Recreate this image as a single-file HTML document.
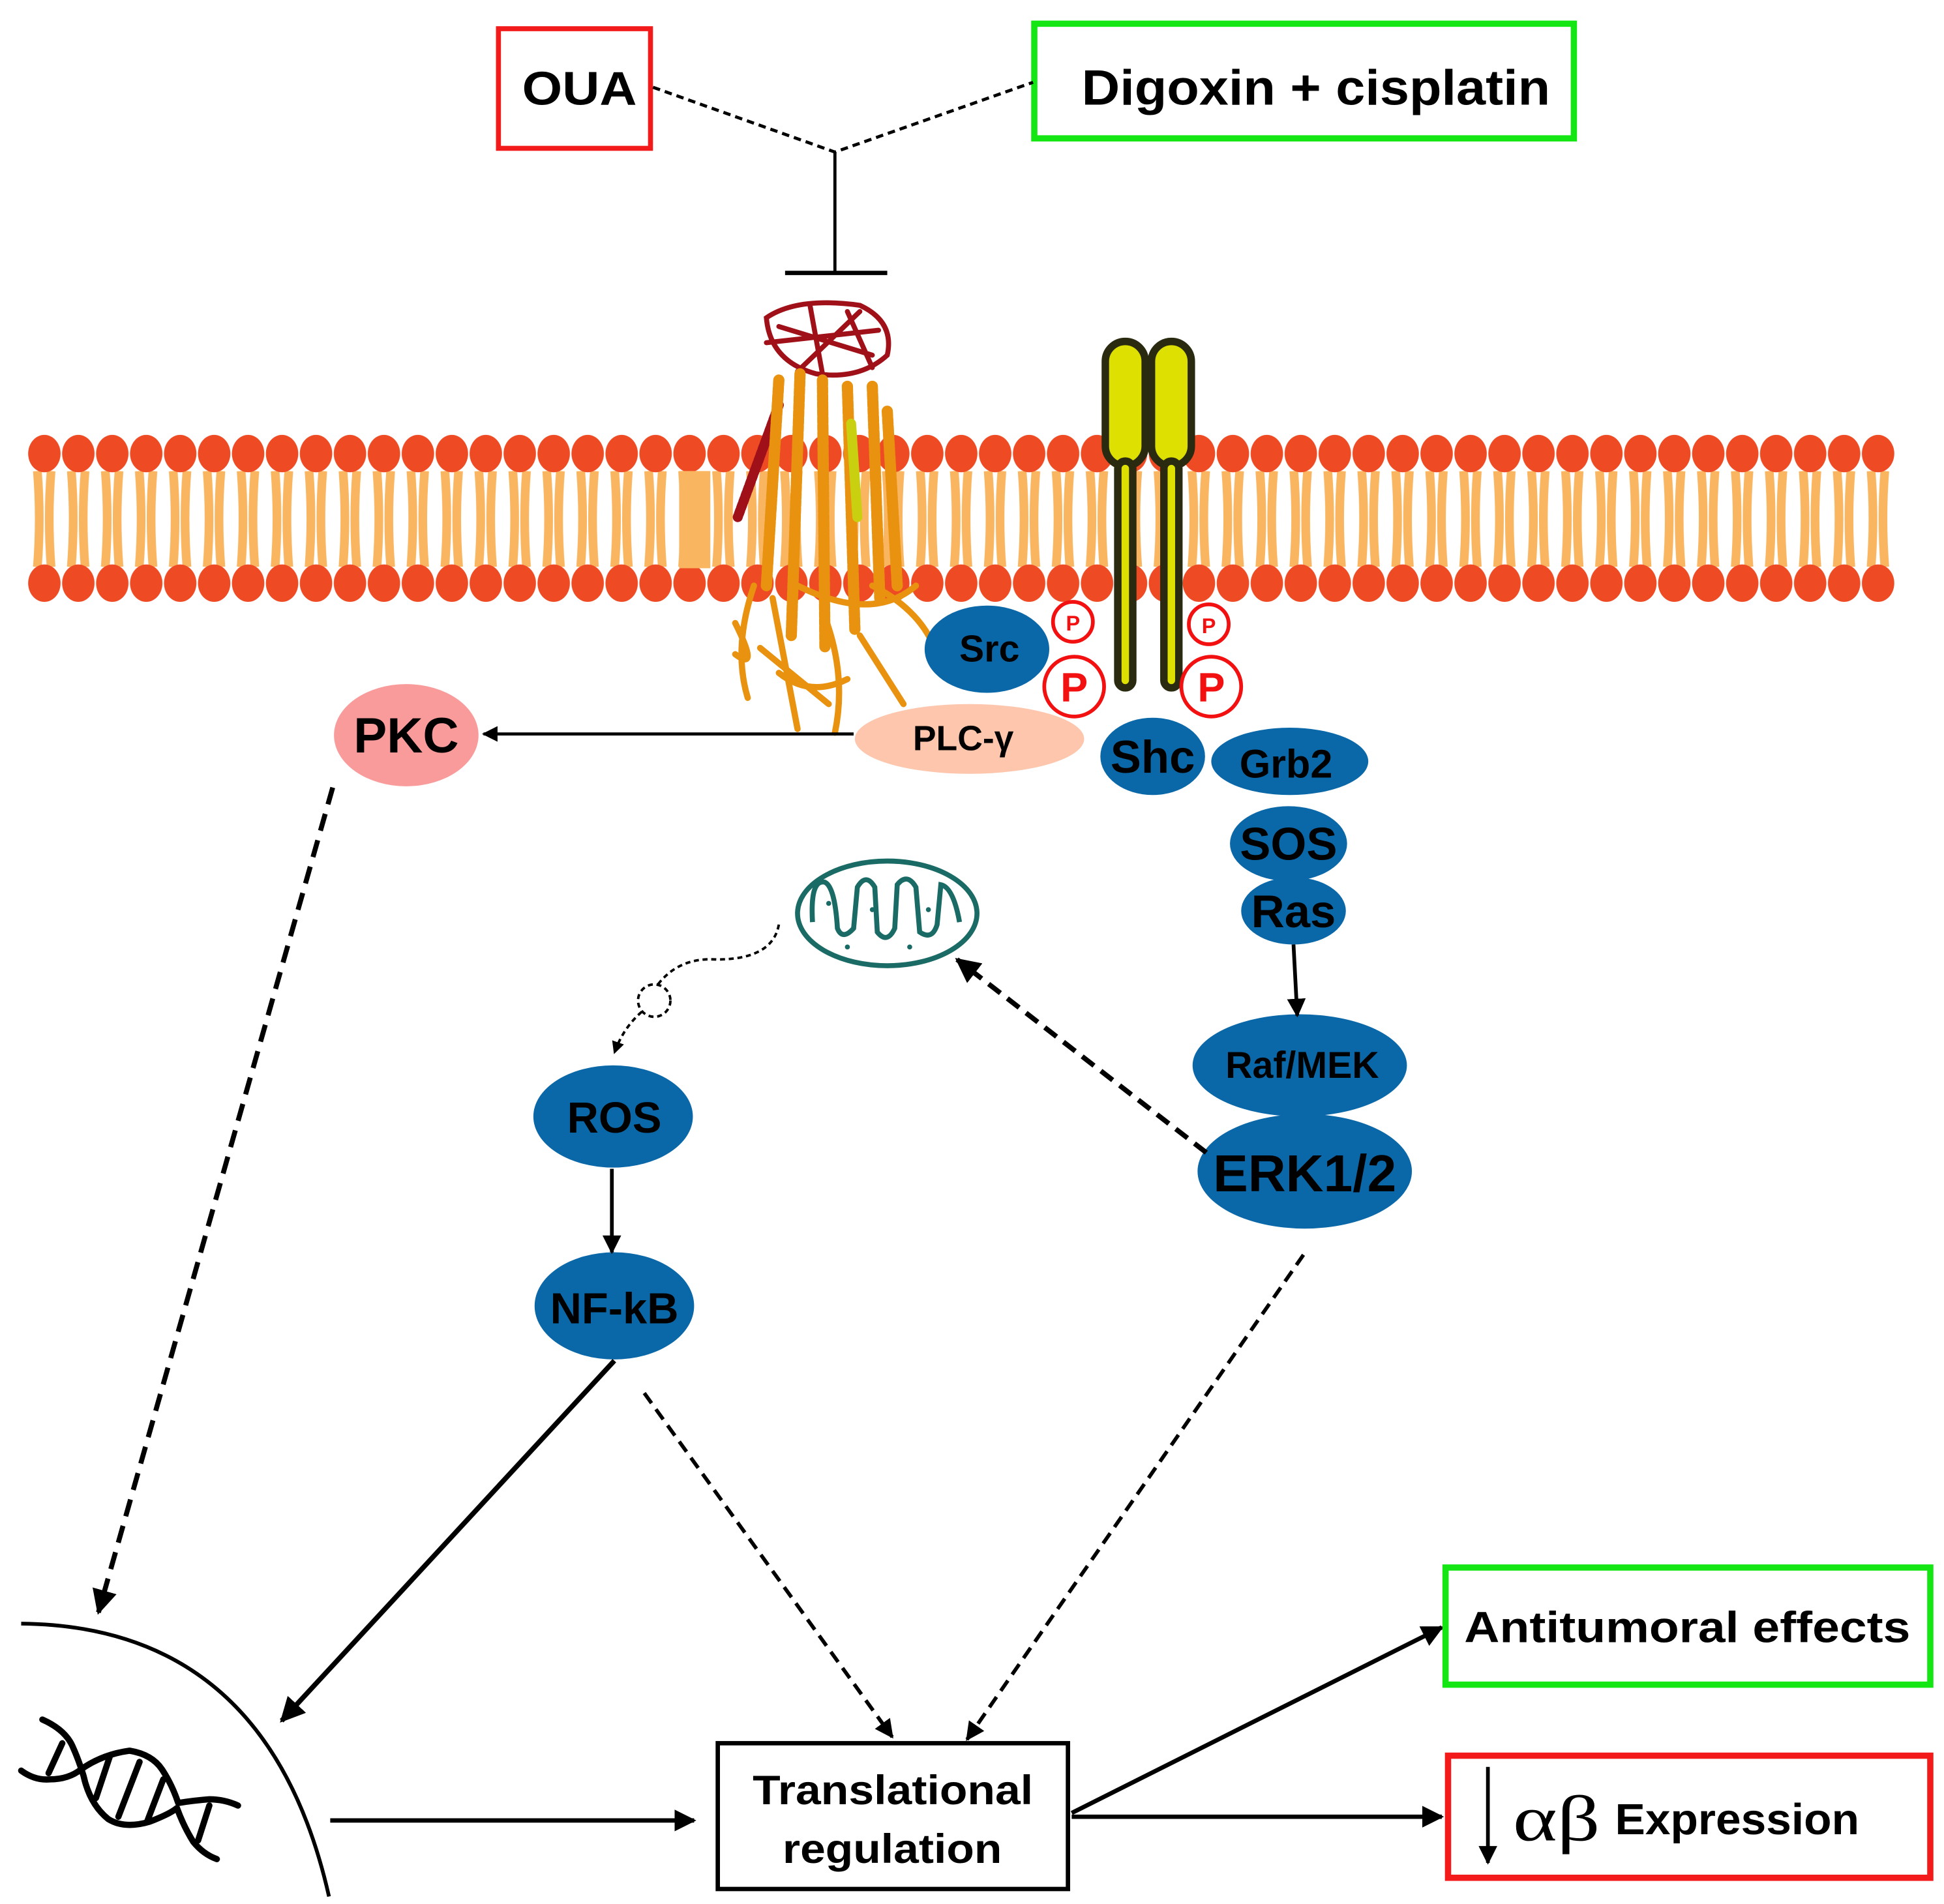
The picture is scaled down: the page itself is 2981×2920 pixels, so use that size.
<!DOCTYPE html>
<html><head><meta charset="utf-8"><style>
html,body{margin:0;padding:0;background:#fff;}
svg{display:block;}
text{font-family:"Liberation Sans",sans-serif;font-weight:bold;}
</style></head><body>
<svg width="2981" height="2920" viewBox="0 0 1560 1528" xmlns="http://www.w3.org/2000/svg">
<defs>
<pattern id="lip" x="22" y="0" width="27.25" height="1528" patternUnits="userSpaceOnUse">
<path d="M8,378 Q11,416 8,455" stroke="#f9b560" stroke-width="7" fill="none"/>
<path d="M19,378 Q16,416 19,455" stroke="#f9b560" stroke-width="7" fill="none"/>
<ellipse cx="13.6" cy="364" rx="13" ry="15" fill="#ee4b25"/>
<ellipse cx="13.6" cy="468" rx="13" ry="15" fill="#ee4b25"/>
</pattern>
<marker id="ah" viewBox="0 0 10 10" refX="9" refY="5" markerWidth="5" markerHeight="5" orient="auto"><path d="M0,0 L10,5 L0,10 z" fill="#000"/></marker>
</defs>
<rect x="0" y="0" width="1560" height="1528" fill="#fff"/>

<!-- top boxes -->
<rect x="400" y="23" width="122" height="96" fill="none" stroke="#f21a1a" stroke-width="4"/>
<text x="419" y="84" font-size="38" textLength="92" lengthAdjust="spacingAndGlyphs">OUA</text>
<rect x="830" y="19" width="433" height="92" fill="none" stroke="#14e614" stroke-width="5"/>
<text x="868" y="84" font-size="40" textLength="376" lengthAdjust="spacingAndGlyphs">Digoxin + cisplatin</text>
<path d="M524,70 L670,122 L829,66" fill="none" stroke="#000" stroke-width="2.5" stroke-dasharray="6,4"/>
<line x1="670" y1="122" x2="670" y2="219" stroke="#000" stroke-width="2.5"/>
<line x1="630" y1="219" x2="712" y2="219" stroke="#000" stroke-width="3.5"/>

<!-- membrane -->
<rect x="22" y="340" width="1499" height="150" fill="url(#lip)"/>
<rect x="545" y="378" width="25" height="78" fill="#f9b560"/>

<!-- protein approx -->
<g fill="none" stroke-linecap="round">
<path d="M615,255 Q640,238 690,245 Q718,258 712,285 Q690,305 655,300 Q618,290 615,255z" stroke="#a01018" stroke-width="4"/>
<path d="M625,262 L700,285 M640,298 L690,250 M615,275 L705,265 M650,245 L660,300 M680,250 L700,295" stroke="#a01018" stroke-width="4"/>
<path d="M625,325 L592,415" stroke="#a01018" stroke-width="8" stroke-dasharray="3,2"/>
<path d="M625,305 L615,470 M642,300 L635,510 M660,305 L662,520 M680,310 L686,505 M700,310 L706,480 M712,330 L720,470" stroke="#e8920f" stroke-width="9" stroke-dasharray="4,2"/>
<path d="M605,470 Q588,520 600,560 M620,480 L640,585 M660,490 Q680,540 670,588 M700,470 Q740,490 752,525 M690,510 L725,565 M610,520 L665,565 M590,500 Q610,540 590,525 M625,540 Q650,560 680,545 M640,470 Q700,500 735,470" stroke="#e8920f" stroke-width="5"/>
<path d="M683,340 L688,415" stroke="#c8d010" stroke-width="8"/>
</g>

<!-- receptor -->
<g stroke="#2a2a10" stroke-width="6" fill="#dde000">
<rect x="887" y="274" width="32" height="100" rx="16"/>
<rect x="924" y="274" width="32" height="100" rx="16"/>
<rect x="897" y="370" width="12" height="182" rx="6"/>
<rect x="934" y="370" width="12" height="182" rx="6"/>
</g>

<!-- Src & P -->
<ellipse cx="792" cy="521" rx="50" ry="35" fill="#0b68a8"/>
<text x="794" y="531" font-size="30" text-anchor="middle">Src</text>
<g fill="#fff" stroke="#f21010" stroke-width="3">
<circle cx="861" cy="499" r="16"/><circle cx="970" cy="501" r="16"/>
<circle cx="862" cy="551" r="24"/><circle cx="972" cy="551" r="24"/>
</g>
<g fill="#f21010" text-anchor="middle">
<text x="861" y="506" font-size="17">P</text><text x="970" y="508" font-size="17">P</text>
<text x="862" y="563" font-size="33">P</text><text x="972" y="563" font-size="33">P</text>
</g>

<!-- PLC/PKC -->
<ellipse cx="778" cy="593" rx="92" ry="28" fill="#fdc6ad"/>
<text x="773" y="602" font-size="28" text-anchor="middle">PLC-γ</text>
<ellipse cx="326" cy="590" rx="58" ry="41" fill="#f99b9b"/>
<text x="326" y="604" font-size="40" text-anchor="middle">PKC</text>
<line x1="685" y1="589" x2="388" y2="589" stroke="#000" stroke-width="2.5" marker-end="url(#ah)"/>

<!-- cascade -->
<g fill="#0b68a8">
<ellipse cx="925" cy="607" rx="42" ry="31"/>
<ellipse cx="1035" cy="611" rx="63" ry="27"/>
<ellipse cx="1034" cy="677" rx="47" ry="30"/>
<ellipse cx="1038" cy="731" rx="42" ry="27"/>
<ellipse cx="1043" cy="855" rx="86" ry="41"/>
<ellipse cx="1047" cy="940" rx="86" ry="46"/>
<ellipse cx="492" cy="896" rx="64" ry="41"/>
<ellipse cx="493" cy="1048" rx="64" ry="43"/>
</g>
<g text-anchor="middle" fill="#000">
<text x="925" y="620" font-size="37">Shc</text>
<text x="1032" y="624" font-size="32">Grb2</text>
<text x="1034" y="690" font-size="37">SOS</text>
<text x="1038" y="744" font-size="37">Ras</text>
<text x="1045" y="865" font-size="30">Raf/MEK</text>
<text x="1047" y="956" font-size="42">ERK1/2</text>
<text x="493" y="909" font-size="35">ROS</text>
<text x="493" y="1062" font-size="35">NF-kB</text>
</g>
<line x1="1038" y1="758" x2="1041" y2="815" stroke="#000" stroke-width="3" marker-end="url(#ah)"/>
<line x1="491" y1="938" x2="491" y2="1005" stroke="#000" stroke-width="3" marker-end="url(#ah)"/>

<!-- mitochondrion -->
<g fill="none" stroke="#1a6a66" stroke-width="4">
<ellipse cx="712" cy="733" rx="72" ry="42"/>
<path d="M652,740 Q650,705 662,708 Q670,712 672,745 Q676,755 685,745 L688,712 Q695,700 702,712 L704,748 Q712,758 718,745 L720,710 Q728,700 735,712 L738,748 Q748,755 752,742 L755,710 Q765,712 770,740"/>
</g>
<g fill="#1a6a66"><circle cx="680" cy="760" r="2"/><circle cx="700" cy="730" r="2"/><circle cx="730" cy="760" r="2"/><circle cx="745" cy="730" r="2"/><circle cx="665" cy="725" r="2"/></g>
<line x1="968" y1="925" x2="768" y2="770" stroke="#000" stroke-width="4" stroke-dasharray="12,7" marker-end="url(#ah)"/>
<path d="M625,742 Q620,770 575,770 Q545,768 528,790" fill="none" stroke="#000" stroke-width="2" stroke-dasharray="4,3"/>
<circle cx="525" cy="803" r="13" fill="none" stroke="#000" stroke-width="2" stroke-dasharray="4,3"/>
<path d="M515,812 Q500,825 493,845" fill="none" stroke="#000" stroke-width="2" stroke-dasharray="4,3" marker-end="url(#ah)"/>

<!-- long connectors -->
<line x1="267" y1="632" x2="79" y2="1294" stroke="#000" stroke-width="4" stroke-dasharray="14,8" marker-end="url(#ah)"/>
<line x1="493" y1="1092" x2="226" y2="1381" stroke="#000" stroke-width="4" marker-end="url(#ah)"/>
<line x1="517" y1="1118" x2="716" y2="1394" stroke="#000" stroke-width="3" stroke-dasharray="10,6" marker-end="url(#ah)"/>
<line x1="1046" y1="1007" x2="776" y2="1396" stroke="#000" stroke-width="3" stroke-dasharray="10,6" marker-end="url(#ah)"/>

<!-- nucleus -->
<path d="M17,1303 Q215,1305 264,1522" fill="none" stroke="#000" stroke-width="3"/>
<g fill="none" stroke="#000" stroke-width="5" stroke-linecap="round" stroke-linejoin="round">
<path d="M34,1380 Q52,1388 58,1401 Q63,1412 67,1425 Q72,1448 87,1460 Q100,1468 120,1462 Q136,1456 142,1451 Q147,1465 155,1478 Q163,1488 174,1492"/>
<path d="M17,1421 Q28,1429 40,1428 Q55,1428 65,1420 Q82,1408 104,1405 Q122,1408 130,1420 Q138,1432 143,1447 Q155,1445 168,1444 Q180,1444 191,1449"/>
<path d="M50,1399 L39,1423 M88,1410 L77,1443 M112,1414 L95,1458 M131,1428 L118,1462 M168,1449 L159,1477"/>
</g>
<line x1="265" y1="1461" x2="557" y2="1461" stroke="#000" stroke-width="3.5" marker-end="url(#ah)"/>

<!-- translational -->
<rect x="576" y="1399" width="281" height="117" fill="none" stroke="#000" stroke-width="3.5"/>
<text x="604" y="1448" font-size="33" textLength="225" lengthAdjust="spacingAndGlyphs">Translational</text>
<text x="628" y="1495" font-size="33" textLength="176" lengthAdjust="spacingAndGlyphs">regulation</text>
<line x1="860" y1="1455" x2="1157" y2="1306" stroke="#000" stroke-width="3.5" marker-end="url(#ah)"/>
<line x1="860" y1="1458" x2="1157" y2="1458" stroke="#000" stroke-width="3.5" marker-end="url(#ah)"/>

<!-- outputs -->
<rect x="1160" y="1258" width="389" height="94" fill="none" stroke="#14e614" stroke-width="5"/>
<text x="1175" y="1318" font-size="35" textLength="358" lengthAdjust="spacingAndGlyphs">Antitumoral effects</text>
<rect x="1162" y="1409" width="387" height="98" fill="none" stroke="#f21a1a" stroke-width="5"/>
<line x1="1194" y1="1418" x2="1194" y2="1495" stroke="#000" stroke-width="3" marker-end="url(#ah)"/>
<text x="1214" y="1477" font-size="52" textLength="70" lengthAdjust="spacingAndGlyphs" style="font-family:'Liberation Serif',serif;font-weight:normal">αβ</text>
<text x="1296" y="1472" font-size="35" textLength="196" lengthAdjust="spacingAndGlyphs">Expression</text>
</svg>
</body></html>
